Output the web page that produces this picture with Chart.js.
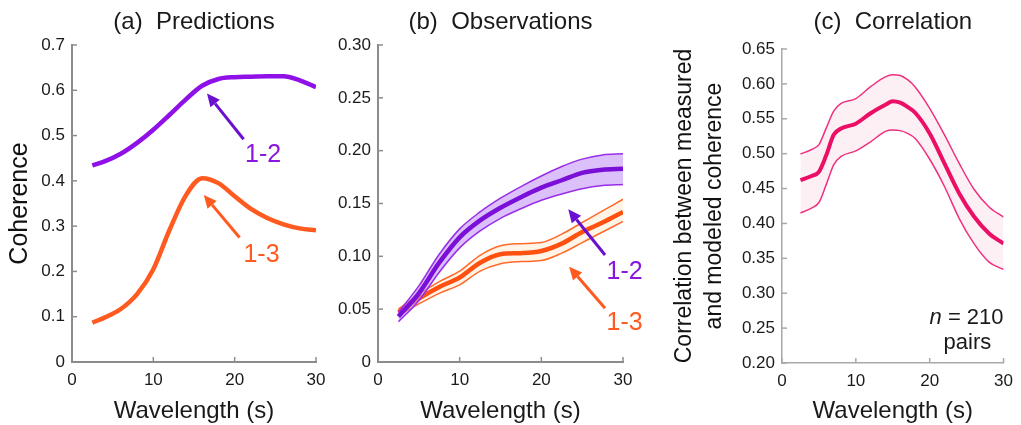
<!DOCTYPE html>
<html>
<head>
<meta charset="utf-8">
<script src="https://cdn.jsdelivr.net/npm/chart.js@4/dist/chart.umd.min.js"></script>
<style>
  body { margin: 0; background: #fff; }
  .panel { position: absolute; top: 0; height: 425px; }
  #boxA { left: 0; width: 340px; }
  #boxB { left: 335px; width: 325px; }
  #boxC { left: 660px; width: 361px; }
</style>
</head>
<body>
<div class="panel" id="boxA"><canvas id="chartA"></canvas></div>
<div class="panel" id="boxB"><canvas id="chartB"></canvas></div>
<div class="panel" id="boxC"><canvas id="chartC"></canvas></div>
<script>
// (a) predictions
const waveA = [2.5, 4, 6, 8, 10, 12, 14, 16, 18, 20, 22, 24, 26, 28, 30]
const pred12 = [0.434, 0.443, 0.460, 0.484, 0.513, 0.546, 0.580, 0.610, 0.625, 0.629, 0.630, 0.631, 0.631, 0.622, 0.607]
const pred13 = [0.087, 0.098, 0.117, 0.150, 0.205, 0.292, 0.368, 0.406, 0.395, 0.366, 0.338, 0.318, 0.304, 0.295, 0.291]
const yTicksA = ['0', '0.1', '0.2', '0.3', '0.4', '0.5', '0.6', '0.7']

// (b) observations, mean and band edges
const waveB = [2.5, 5, 7.5, 10, 12.5, 15, 17.5, 20, 22.5, 25, 27.5, 30]
const obs12 = [0.043, 0.065, 0.094, 0.118, 0.134, 0.146, 0.156, 0.165, 0.172, 0.179, 0.182, 0.183]
const obs12Hi = [0.047, 0.072, 0.102, 0.126, 0.142, 0.155, 0.166, 0.176, 0.185, 0.192, 0.196, 0.197]
const obs12Lo = [0.038, 0.058, 0.085, 0.108, 0.124, 0.136, 0.145, 0.153, 0.159, 0.164, 0.167, 0.168]
const obs13 = [0.047, 0.060, 0.071, 0.080, 0.094, 0.102, 0.103, 0.105, 0.112, 0.123, 0.132, 0.142]
const obs13Hi = [0.050, 0.064, 0.076, 0.086, 0.101, 0.110, 0.112, 0.113, 0.121, 0.132, 0.143, 0.154]
const obs13Lo = [0.044, 0.055, 0.065, 0.073, 0.086, 0.093, 0.095, 0.096, 0.103, 0.113, 0.123, 0.133]
const yTicksB = ['0', '0.05', '0.10', '0.15', '0.20', '0.25', '0.30']

// (c) correlation
const waveC = [2.5, 4, 5, 6, 7, 8, 10, 12, 14, 15, 16, 17, 18, 20, 22, 24, 26, 28, 30]
const corr = [0.462, 0.468, 0.474, 0.498, 0.527, 0.536, 0.543, 0.558, 0.570, 0.575, 0.573, 0.567, 0.559, 0.529, 0.486, 0.443, 0.410, 0.386, 0.371]
const corrHi = [0.4995, 0.506, 0.513, 0.537, 0.561, 0.572, 0.579, 0.596, 0.610, 0.613, 0.612, 0.606, 0.596, 0.565, 0.527, 0.486, 0.449, 0.424, 0.409]
const corrLo = [0.415, 0.422, 0.430, 0.456, 0.484, 0.496, 0.504, 0.517, 0.532, 0.534, 0.533, 0.529, 0.522, 0.492, 0.453, 0.407, 0.371, 0.345, 0.334]
const yTicksC = ['0.20', '0.25', '0.30', '0.35', '0.40', '0.45', '0.50', '0.55', '0.60', '0.65']

const xTicks = ['0', '10', '20', '30']

// annotations, in data units
const arrowsA = [
  { from: [21.1, 0.492], to: [16.6, 0.593], color: '#6a10d0' },
  { from: [20.6, 0.275], to: [16.2, 0.369], color: '#ff5a1f' },
]
const labelsA = [
  { text: '1-2', at: [23.5, 0.457], color: '#8a16e0' },
  { text: '1-3', at: [23.3, 0.236], color: '#ff5a1f' },
]
const arrowsB = [
  { from: [27.8, 0.1013], to: [23.3, 0.1445], color: '#6a10d0' },
  { from: [27.8, 0.0508], to: [23.4, 0.0902], color: '#ff5a1f' },
]
const labelsB = [
  { text: '1-2', at: [30.2, 0.0855], color: '#8a16e0' },
  { text: '1-3', at: [30.2, 0.0366], color: '#ff5a1f' },
]

const FONT = "'Liberation Sans', Arial, sans-serif"
const TEXT = '#1a1a1a'

const pts = (xs, ys) => xs.map((x, i) => ({ x, y: ys[i] }))

function line(data, color, width, extra) {
  return Object.assign({
    data,
    borderColor: color,
    borderWidth: width,
    pointRadius: 0,
    fill: false,
    cubicInterpolationMode: 'monotone',
  }, extra || {})
}

function makeMarks(arrows, labels, axisColor, extraText) {
  return {
    id: 'marks',
    afterDraw(chart) {
      const { ctx, chartArea } = chart
      const xs = chart.scales.x
      const ys = chart.scales.y
      ctx.save()
      // inward tick marks
      ctx.strokeStyle = axisColor
      ctx.lineWidth = 1.5
      ys.ticks.forEach((t) => {
        const py = ys.getPixelForValue(t.value)
        ctx.beginPath()
        ctx.moveTo(chartArea.left, py)
        ctx.lineTo(chartArea.left + 5, py)
        ctx.stroke()
      })
      xs.ticks.forEach((t) => {
        const px = xs.getPixelForValue(t.value)
        ctx.beginPath()
        ctx.moveTo(px, chartArea.bottom)
        ctx.lineTo(px, chartArea.bottom - 5)
        ctx.stroke()
      })
      // arrows
      arrows.forEach((a) => {
        const x0 = xs.getPixelForValue(a.from[0])
        const y0 = ys.getPixelForValue(a.from[1])
        const x1 = xs.getPixelForValue(a.to[0])
        const y1 = ys.getPixelForValue(a.to[1])
        const ang = Math.atan2(y1 - y0, x1 - x0)
        const head = 13
        const bx = x1 - head * Math.cos(ang)
        const by = y1 - head * Math.sin(ang)
        ctx.strokeStyle = a.color
        ctx.fillStyle = a.color
        ctx.lineWidth = 3
        ctx.beginPath()
        ctx.moveTo(x0, y0)
        ctx.lineTo(bx, by)
        ctx.stroke()
        ctx.beginPath()
        ctx.moveTo(x1, y1)
        ctx.lineTo(bx + 6 * Math.sin(ang), by - 6 * Math.cos(ang))
        ctx.lineTo(bx - 6 * Math.sin(ang), by + 6 * Math.cos(ang))
        ctx.closePath()
        ctx.fill()
      })
      ctx.textAlign = 'center'
      ctx.textBaseline = 'middle'
      ctx.font = '25px ' + FONT
      labels.forEach((l) => {
        ctx.fillStyle = l.color
        ctx.fillText(l.text, xs.getPixelForValue(l.at[0]), ys.getPixelForValue(l.at[1]))
      })
      if (extraText) extraText(ctx, xs, ys)
      ctx.restore()
    },
  }
}

function baseOptions(cfg) {
  return {
    responsive: true,
    maintainAspectRatio: false,
    animation: false,
    layout: { padding: { left: 0, right: cfg.padRight, top: 0, bottom: 0 } },
    plugins: {
      legend: { display: false },
      tooltip: { enabled: false },
      title: {
        display: true,
        text: cfg.title,
        fullSize: false,
        color: TEXT,
        font: { family: FONT, size: 24, weight: 'normal', lineHeight: 1.2 },
        padding: { top: 8, bottom: cfg.top - 8 - 28.8 },
      },
    },
    scales: {
      x: {
        type: 'linear',
        min: 0,
        max: 30,
        afterFit: (s) => { s.height = cfg.xHeight },
        grid: { display: false, drawTicks: false },
        border: { display: true, color: cfg.axisColor, width: cfg.axisWidth },
        ticks: {
          stepSize: 10,
          autoSkip: false,
          maxRotation: 0,
          padding: 8,
          color: TEXT,
          font: { family: FONT, size: cfg.tickSize },
          callback: (v, i) => xTicks[i],
        },
        title: {
          display: true,
          text: 'Wavelength (s)',
          color: TEXT,
          font: { family: FONT, size: 24, lineHeight: 1.1 },
          padding: { top: 0, bottom: 0 },
        },
      },
      y: {
        type: 'linear',
        min: cfg.yMin,
        max: cfg.yMax,
        afterFit: (s) => { s.width = cfg.yWidth },
        grid: { display: false, drawTicks: false },
        border: { display: true, color: cfg.axisColor, width: cfg.axisWidth },
        ticks: {
          stepSize: cfg.yStep,
          autoSkip: false,
          padding: 7,
          color: TEXT,
          font: { family: FONT, size: cfg.tickSize },
          callback: (v, i) => cfg.yLabels[i],
        },
        title: cfg.yTitle,
      },
    },
  }
}

new Chart(document.getElementById('chartA'), {
  type: 'line',
  data: {
    datasets: [
      line(pts(waveA, pred12), '#9010e8', 4.5),
      line(pts(waveA, pred13), '#ff5a1f', 4.5),
    ],
  },
  options: baseOptions({
    title: '(a)  Predictions', top: 45, padRight: 24, xHeight: 63, yWidth: 72,
    yMin: 0, yMax: 0.7, yStep: 0.1, yLabels: yTicksA, tickSize: 17,
    axisColor: '#8c8c8c', axisWidth: 2,
    yTitle: {
      display: true,
      text: 'Coherence',
      color: '#111',
      font: { family: FONT, size: 25, lineHeight: 1.2 },
      padding: { top: 5, bottom: 0 },
    },
  }),
  plugins: [makeMarks(arrowsA, labelsA, '#8c8c8c')],
})

// datasets listed top-down: first one is drawn last, so the mean line sits over its band
new Chart(document.getElementById('chartB'), {
  type: 'line',
  data: {
    datasets: [
      line(pts(waveB, obs12), '#7a0fd8', 4.5),
      line(pts(waveB, obs12Hi), '#9a2ee8', 1.5),
      line(pts(waveB, obs12Lo), '#9a2ee8', 1.5, { fill: '-1', backgroundColor: 'rgba(190, 140, 245, 0.55)' }),
      line(pts(waveB, obs13), '#ff5010', 4.5),
      line(pts(waveB, obs13Hi), '#ff6a2a', 1.5),
      line(pts(waveB, obs13Lo), '#ff6a2a', 1.5, { fill: '-1', backgroundColor: 'rgba(255, 242, 226, 0.85)' }),
    ],
  },
  options: baseOptions({
    title: '(b)  Observations', top: 45, padRight: 37, xHeight: 63, yWidth: 43,
    yMin: 0, yMax: 0.3, yStep: 0.05, yLabels: yTicksB, tickSize: 17,
    axisColor: '#8c8c8c', axisWidth: 2,
    yTitle: { display: false },
  }),
  plugins: [makeMarks(arrowsB, labelsB, '#8c8c8c')],
})

new Chart(document.getElementById('chartC'), {
  type: 'line',
  data: {
    datasets: [
      line(pts(waveC, corr), '#ec0f66', 4),
      line(pts(waveC, corrHi), '#f0307f', 1.5),
      line(pts(waveC, corrLo), '#f0307f', 1.5, { fill: '-1', backgroundColor: 'rgba(253, 236, 242, 0.8)' }),
    ],
  },
  options: baseOptions({
    title: '(c)  Correlation', top: 49, padRight: 14, xHeight: 62, yWidth: 122,
    yMin: 0.2, yMax: 0.65, yStep: 0.05, yLabels: yTicksC, tickSize: 17,
    axisColor: '#a8a8a8', axisWidth: 1.5,
    yTitle: {
      display: true,
      text: ['Correlation between measured', 'and modeled coherence'],
      color: '#111',
      font: { family: FONT, size: 23, lineHeight: 1.3 },
      padding: { top: 10, bottom: 0 },
    },
  }),
  plugins: [makeMarks([], [], '#a8a8a8', (ctx, xs, ys) => {
    ctx.fillStyle = TEXT
    ctx.font = '22px ' + FONT
    ctx.textAlign = 'right'
    const rx = xs.getPixelForValue(30)
    const ny = ys.getPixelForValue(0.2645)
    ctx.fillText('= 210', rx, ny)
    const w = ctx.measureText('= 210').width
    ctx.font = 'italic 22px ' + FONT
    ctx.fillText('n ', rx - w, ny)
    ctx.font = '22px ' + FONT
    ctx.textAlign = 'center'
    ctx.fillText('pairs', xs.getPixelForValue(25.1), ys.getPixelForValue(0.229))
  })],
})
</script>
</body>
</html>
